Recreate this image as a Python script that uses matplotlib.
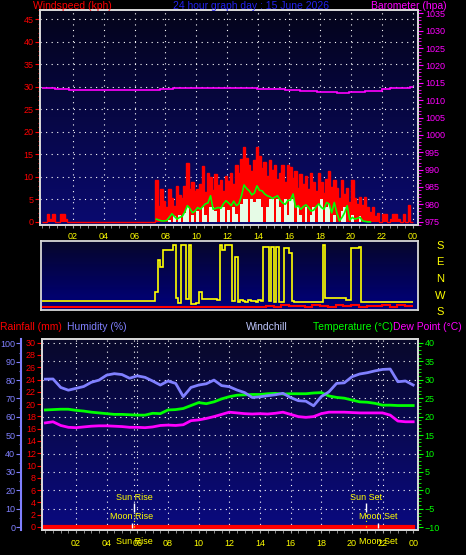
import numpy as np
import matplotlib.pyplot as plt
import matplotlib.transforms as mtransforms
from matplotlib.colors import LinearSegmentedColormap
from matplotlib.ticker import MultipleLocator

plt.rcParams['font.family'] = ['Liberation Sans', 'DejaVu Sans']

nan = np.nan

# wind, 10 minute samples (kph)
gust = [0, 0, 1.8, 0.7, 1.8, 0,
        0, 1.8, 1.8, 0.7, 0, 0,
        0, 0, 0, 0, 0, 0,
        0, 0, 0, 0, 0, 0,
        0, 0, 0, 0, 0, 0,
        0, 0, 0, 0, 0, 0,
        0, 0, 0, 0, 0, 0,
        0, 0, 9.4, 3.6, 7.2, 4.7,
        3.2, 7.2, 5.4, 3.6, 8.0, 6.0,
        5.4, 7.9, 13.1, 7.2, 8.8, 6.8,
        7.3, 8.5, 12.4, 6.6, 10.9, 9.9,
        7.0, 10.6, 8.3, 9.2, 6.8, 10.2,
        9.1, 10.9, 8.4, 12.6, 10.8, 14.0,
        16.7, 14.3, 12.6, 11.2, 13.8, 16.7,
        14.6, 12.0, 13.3, 10.1, 13.7, 11.5,
        12.6, 9.5, 10.9, 12.6, 8.8, 12.6,
        12.3, 9.7, 11.3, 7.5, 10.6, 8.4,
        10.2, 7.4, 10.9, 8.8, 6.8, 10.9,
        8.8, 6.5, 9.6, 11.3, 7.7, 9.2,
        7.6, 5.2, 9.2, 6.3, 7.6, 4.4,
        9.2, 5.4, 4.0, 5.6, 3.8, 5.6,
        3.2, 2.1, 3.2, 1.3, 1.9, 0,
        1.8, 1.8, 0, 0.7, 1.8, 1.8,
        0.7, 0, 1.8, 0, 3.8, 0]

avg_wind = [0] * 48 + [
        0, 0.5, 0, 1.3, 0, 1.5,
        0, 2.0, 3.2, 0, 1.6, 0,
        2.4, 0, 3.2, 1.5, 0, 3.2,
        3.2, 2.4, 0, 3.2, 3.2, 0,
        2.6, 0, 3.2, 1.8, 0, 4.0,
        5.1, 5.1, 0, 5.1, 4.5, 5.1,
        5.1, 3.2, 0, 3.2, 5.1, 5.1,
        0, 5.1, 3.2, 0, 5.1, 1.6,
        5.1, 5.1, 0, 3.2, 1.6, 0,
        3.2, 0, 1.6, 3.2, 0, 3.8,
        5.1, 0, 3.2, 4.0, 0, 1.6,
        0, 0, 2.4, 3.2, 0, 0,
        1.6, 0, 0, 1.3, 0, 0] + [0] * 18

wind_avg_line = [nan] * 44 + [
        0.6, 0.4, 0.2, 0.2,
        0.3, 1.0, 1.8, 1.2, 0.6, 1.0,
        1.2, 2.2, 3.6, 3.0, 2.0, 2.4,
        3.2, 2.8, 3.4, 4.0, 4.2, 5.8,
        2.8, 3.0, 3.2, 3.0, 4.0, 4.7,
        4.2, 3.6, 4.6, 3.6, 4.0, 5.8,
        8.2, 7.4, 6.9, 6.0, 6.4, 8.0,
        7.0, 6.9, 6.2, 5.8, 5.6, 5.2,
        5.5, 5.8, 4.8, 4.2, 3.9, 4.8,
        4.8, 6.2, 3.2, 3.6, 2.8, 3.4,
        3.8, 3.2, 2.4, 2.6, 3.4, 4.0,
        3.2, 2.8, 4.3, 4.0, 2.0, 4.3,
        2.0, 0.2, 1.0, 2.0, 3.6, 0.4,
        1.0, 0.6, 0.8, 1.0, 0.2, 0.1,
        0.0, 0.0] + [nan] * 16

# wind direction, drawn S(180) E(90) N(0) W(-90) S(-180) from top
wind_dir = [-120] * 42 + [
        -120, -120, -73, 104, 67, 158,
        158, 158, 158, 185, -105, -130,
        185, 185, -110, 185, -135, -135,
        -130, -73, -111, -111, -111, -111,
        -111, -111, -115, 185, 158, 185,
        185, 185, -120, 122, -125, -115,
        -118, -125, -115, -122, -118, -125,
        -115, -122, 175, 175, -120, 175,
        -125, 175, -125, -125, 167, 167,
        140, -120, -124, -124, -124, -124,
        -124, -124, -124, -124, -124, -124,
        -124, 185, -105, -105, -105, -105,
        -105, -105, -105, -105, -112, -115,
        167, 167, 167, 175, -124, -124] + [-124] * 18

dir_red = [-153, -155, -152, -155, -153, -155, -152, -155, -154, -155, -153, -155,
           -152, -155, -155, -153, -155, -155, -154, -155, -153, -155, -155, -152,
           -155, -154, -155, -152, -155, -148, -150, -140, -148, -145, -150, -142,
           -146, -150, -143, -148, -140, -150, -145, -148, -142, -150, -140, -145]

# barometer steps (hpa)
baro_edges = [0, 0.86, 1.76, 3.32, 6.74, 7.64, 8.48, 13.9, 15.7, 16.7, 17.8,
              19.1, 19.9, 20.9, 22.0, 22.5, 23.8, 24.0]
baro_hpa = [1013.6, 1013.3, 1013.0, 1012.8, 1013.0, 1013.3, 1013.6, 1013.3,
            1012.8, 1012.6, 1012.3, 1012.0, 1012.3, 1012.6, 1013.1, 1013.6, 1013.8]

# half hourly
humidity = [80.5, 80.6, 76.0, 74.5, 75.5, 76.5, 78.8, 80.0, 82.7, 83.5, 83.0, 81.0,
            82.3, 81.5, 79.5, 77.3, 79.5, 78.2, 71.0, 76.0, 77.3, 78.0, 80.0, 77.0,
            76.4, 74.6, 73.2, 70.5, 70.9, 71.5, 72.0, 72.8, 70.5, 68.8, 68.5, 66.0,
            71.0, 73.6, 78.2, 78.5, 81.8, 83.3, 84.0, 85.0, 85.8, 86.0, 79.1, 79.5, 77.3]
temperature = [21.8, 21.9, 22.0, 22.0, 21.7, 21.5, 21.2, 21.0, 20.8, 20.6, 20.6, 20.5,
               20.4, 20.4, 20.9, 20.8, 21.8, 21.9, 22.2, 23.0, 23.8, 23.5, 24.0, 24.8,
               25.4, 25.8, 25.9, 26.0, 26.0, 26.2, 26.3, 26.1, 26.2, 26.2, 26.2, 26.4,
               26.5, 25.6, 25.2, 25.0, 24.5, 24.0, 23.9, 23.6, 23.1, 23.1, 23.0, 23.0, 23.0]
dew_point = [18.3, 18.6, 17.6, 17.1, 17.0, 17.2, 17.4, 17.5, 17.5, 17.4, 17.3, 17.1,
             17.1, 17.0, 17.2, 17.6, 17.7, 17.6, 17.8, 18.9, 19.1, 19.5, 20.0, 20.6,
             21.2, 21.0, 20.8, 20.7, 20.8, 20.7, 20.9, 21.2, 20.6, 20.0, 19.8, 20.0,
             20.8, 21.2, 21.2, 21.2, 21.1, 21.0, 21.0, 21.0, 21.0, 20.4, 18.8, 18.6, 18.6]
rainfall = [0.0] * 49

events = ['Sun Rise', 'Moon Rise', 'Sun Set', 'Moon Set']
event_hours = [5.8, 5.63, 20.94, 21.72]

hour_ticks = list(range(2, 25, 2))
hour_labels = ['02', '04', '06', '08', '10', '12', '14', '16', '18', '20', '22', '00']

edges10 = np.arange(145) / 6
t10 = edges10[:-1] + 1 / 12
t30 = np.arange(49) / 2
edges30 = np.arange(49) / 2

W, H = 466, 555
fig = plt.figure(figsize=(W / 100, H / 100), dpi=100, facecolor='black')


def box(x0, y0, x1, y1):
    return [x0 / W, 1 - y1 / H, (x1 - x0) / W, (y1 - y0) / H]


def gradient(ax, top, bottom):
    cmap = LinearSegmentedColormap.from_list('bg', [bottom, top])
    ax.imshow(np.linspace(0, 1, 256).reshape(-1, 1), cmap=cmap, origin='lower',
              aspect='auto', extent=(0, 1, 0, 1), transform=ax.transAxes, zorder=0)


def frame(ax):
    for s in ax.spines.values():
        s.set_color('#d8d8d8')
        s.set_linewidth(1.3)


dots = (0, (1, 4))

# ---- windspeed / barometer
ax1 = fig.add_axes(box(40, 10, 418, 225))
gradient(ax1, '#04041a', '#0a0a70')
ax1.set_xlim(-0.11, 24.33)
ax1.set_ylim(-0.7, 47.1)
for v in range(5, 50, 5):
    ax1.axhline(v, color='white', lw=0.8, ls=dots, zorder=1)
for h in hour_ticks:
    ax1.axvline(h, color='white', lw=0.8, ls=dots, zorder=1)
ax1.stairs(gust, edges10, fill=True, color='red', lw=0, zorder=2)
ax1.stairs(gust, edges10, baseline=None, color='red', lw=1, zorder=2)
ax1.stairs(avg_wind, edges10, fill=True, color='#e6fbe6', lw=0, zorder=3)
ax1.plot(t10, wind_avg_line, color='#00ff00', lw=1.2, zorder=4)
ax1.set_yticks(range(0, 50, 5))
ax1.yaxis.set_minor_locator(MultipleLocator(1))
ax1.tick_params(axis='y', which='both', colors='red', labelsize=6.5, pad=1)
ax1.tick_params(axis='y', which='major', length=3.5)
ax1.tick_params(axis='y', which='minor', length=1.8)
ax1.set_xticks(hour_ticks)
ax1.set_xticklabels(hour_labels)
ax1.xaxis.set_minor_locator(MultipleLocator(0.5))
ax1.tick_params(axis='x', which='both', colors='#a0a0a0', labelcolor='yellow',
                labelsize=6.5, length=2.2, pad=3)
frame(ax1)

ax1b = ax1.twinx()
ax1b.set_ylim(974, 1036)
ax1b.stairs(baro_hpa, baro_edges, baseline=None, color='#ff00ff', lw=1.2)
ax1b.set_yticks(range(975, 1036, 5))
ax1b.yaxis.set_minor_locator(MultipleLocator(1))
ax1b.tick_params(axis='y', which='both', colors='#ff00ff', labelsize=6.5, pad=1.5)
ax1b.tick_params(axis='y', which='major', length=3.5)
ax1b.tick_params(axis='y', which='minor', length=1.8)
frame(ax1b)

# ---- wind direction
ax2 = fig.add_axes(box(41, 241, 418, 310))
gradient(ax2, '#06062a', '#00007e')
ax2.set_xlim(-0.05, 24.33)
ax2.set_ylim(-169, 207)
ax2.stairs(dir_red, edges30, baseline=None, color='red', lw=1.5, zorder=2)
ax2.stairs(wind_dir, edges10, baseline=None, color='yellow', lw=1.2, zorder=3)
ax2.set_xticks([])
ax2.set_yticks([])
frame(ax2)
tr2 = mtransforms.blended_transform_factory(ax2.transAxes, ax2.transData)
for lab, v in zip(['S', 'E', 'N', 'W', 'S'], [180, 90, 0, -90, -180]):
    ax2.text(1.058, v, lab, transform=tr2, color='yellow', fontsize=8,
             ha='center', va='center', clip_on=False)

# ---- rain / humidity / temperature
ax3 = fig.add_axes(box(42.3, 339.3, 417.5, 530))
gradient(ax3, '#08082a', '#0a0a80')
ax3.set_xlim(-0.2, 24.28)
ax3.set_ylim(-0.49, 30.55)
for h in hour_ticks[:-1] + [event_hours[0], event_hours[3]]:
    ax3.axvline(h, color='white', lw=0.8, ls=dots, zorder=1)
ax3.plot(t30, rainfall, color='red', lw=3, zorder=5)
ax3.set_yticks(range(0, 31, 2))
ax3.yaxis.set_minor_locator(MultipleLocator(1))
ax3.tick_params(axis='y', which='both', colors='red', labelsize=6.5, pad=1)
ax3.tick_params(axis='y', which='major', length=3.5)
ax3.tick_params(axis='y', which='minor', length=1.8)
ax3.set_xticks(hour_ticks)
ax3.set_xticklabels(hour_labels)
ax3.xaxis.set_minor_locator(MultipleLocator(0.5))
ax3.tick_params(axis='x', which='both', colors='#a0a0a0', labelcolor='yellow',
                labelsize=6.5, length=2.2, pad=4)
frame(ax3)

ax3t = ax3.twinx()
ax3t.set_ylim(-10.73, 40.95)
for v in range(-5, 41, 5):
    ax3t.axhline(v, color='white', lw=0.8, ls=dots, zorder=1)
ax3t.plot(t30, temperature, color='#00ff00', lw=2, zorder=3)
ax3t.plot(t30, dew_point, color='#ff00ff', lw=2, zorder=3)
ax3t.set_yticks(range(-10, 41, 5))
ax3t.yaxis.set_minor_locator(MultipleLocator(1))
ax3t.tick_params(axis='y', which='both', colors='#00ff00', labelsize=6.5, pad=1.5)
ax3t.tick_params(axis='y', which='major', length=3.5)
ax3t.tick_params(axis='y', which='minor', length=1.8)
frame(ax3t)

# sun and moon marks
for name, h in zip(events, event_hours):
    if name.startswith('Sun'):
        ax3t.vlines(h, -5.9, -3.4, color='white', lw=1, zorder=4)
        ax3t.vlines(h, -10, -5.9, color='yellow', lw=0.8, ls=dots, zorder=4)
        ax3t.text(h, -2.0, name, color='yellow', fontsize=6.5, ha='center', va='center')
    else:
        ax3t.vlines(h, -10.2, -8.75, color='white', lw=1, zorder=4)
        ax3t.text(h, -7.1, name, color='yellow', fontsize=6.5, ha='center', va='center')
tr3 = mtransforms.blended_transform_factory(ax3.transData, ax3.transAxes)
for i in (0, 3):
    ax3.text(event_hours[i], -0.061, events[i], transform=tr3, color='yellow',
             fontsize=6.5, ha='center', va='center', clip_on=False)

ax3h = ax3.twinx()
ax3h.set_ylim(-1.6, 102.2)
ax3h.plot(t30, humidity, color='#8080ff', lw=2, zorder=3)
ax3h.yaxis.set_ticks_position('left')
ax3h.spines['left'].set_position(('outward', 15))
for s in ['top', 'right', 'bottom']:
    ax3h.spines[s].set_visible(False)
ax3h.spines['left'].set_color('#8080ff')
ax3h.spines['left'].set_linewidth(1.5)
ax3h.set_yticks(range(0, 101, 10))
ax3h.yaxis.set_minor_locator(MultipleLocator(5))
ax3h.tick_params(axis='y', which='both', colors='#8080ff', labelsize=6.5, pad=1)
ax3h.tick_params(axis='y', which='major', length=3.5)
ax3h.tick_params(axis='y', which='minor', length=1.8)

# headers
def label(x, y, s, color, ha='left'):
    fig.text(x / W, 1 - y / H, s, color=color, fontsize=7.5, ha=ha, va='center')


label(33, 6, 'Windspeed (kph)', 'red')
label(251, 6, '24 hour graph day : 15 June 2026', '#2222ee', ha='center')
label(371, 6, 'Barometer (hpa)', '#ff00ff')
label(0, 327, 'Rainfall (mm)', 'red')
label(67, 327, 'Humidity (%)', '#8080ff')
label(246, 327, 'Windchill', '#c0c8ff')
label(313, 327, 'Temperature (°C)', '#00ff00')
label(393, 327, 'Dew Point (°C)', '#ff00ff')

fig.savefig('out.png', dpi=100, facecolor='black')
